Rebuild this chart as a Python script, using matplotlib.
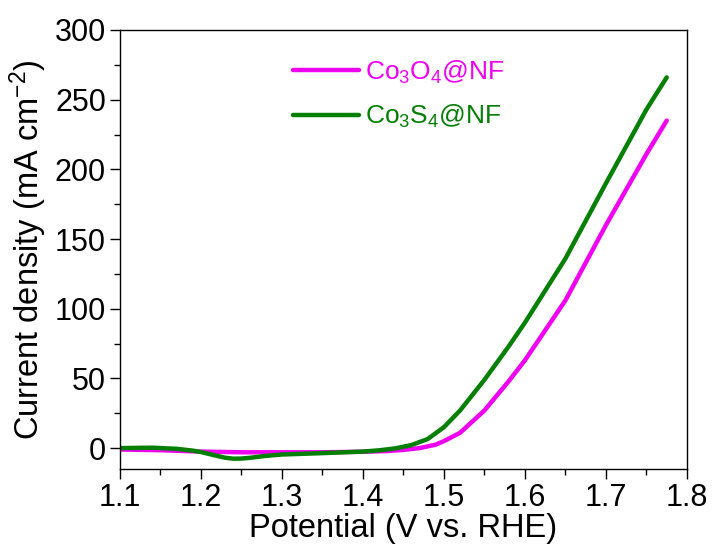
import matplotlib
matplotlib.use("Agg")
import matplotlib.pyplot as plt
from matplotlib.ticker import MultipleLocator

plt.rcParams['font.family'] = ['Liberation Sans', 'DejaVu Sans']
plt.rcParams['mathtext.fontset'] = 'custom'
plt.rcParams['mathtext.rm'] = 'Liberation Sans'
plt.rcParams['mathtext.it'] = 'Liberation Sans'

# Co3S4@NF
x_s = [1.10, 1.14, 1.17, 1.19, 1.20, 1.21, 1.22, 1.23, 1.24, 1.25, 1.26, 1.28, 1.30, 1.35,
       1.40, 1.42, 1.44, 1.46, 1.48, 1.50, 1.52, 1.55, 1.58, 1.60, 1.65, 1.70, 1.75, 1.775]
y_s = [0.0, 0.3, -0.5, -1.8, -2.8, -4.2, -5.6, -6.9, -7.6, -7.5, -7.0, -5.6, -4.6, -3.6,
       -2.5, -1.6, -0.2, 2.2, 6.5, 15.0, 27.0, 49.0, 73.0, 90.0, 136.0, 190.0, 243.0, 266.0]

# Co3O4@NF
x_o = [1.10, 1.15, 1.20, 1.25, 1.30, 1.35, 1.40, 1.43, 1.45, 1.47, 1.49, 1.50, 1.52, 1.55,
       1.58, 1.60, 1.65, 1.70, 1.75, 1.775]
y_o = [-1.0, -1.5, -2.5, -3.0, -3.0, -3.0, -2.6, -2.1, -1.3, 0.0, 2.5, 5.0, 11.0, 27.0,
       48.0, 63.0, 106.0, 160.0, 211.0, 235.0]

labels = [r'Co$_3$O$_4$@NF', r'Co$_3$S$_4$@NF']
colors = ['#f000f0', '#058005']

fig = plt.figure(figsize=(7.13, 5.49), dpi=100)
ax = fig.add_axes([0.168, 0.1457, 0.7955, 0.7997])

ax.plot(x_o, y_o, color=colors[0], lw=3.2, label=labels[0], solid_capstyle='round')
ax.plot(x_s, y_s, color=colors[1], lw=3.2, label=labels[1], solid_capstyle='round')

ax.set_xlim(1.1, 1.8)
ax.set_ylim(-15, 300)
ax.xaxis.set_major_locator(MultipleLocator(0.1))
ax.xaxis.set_minor_locator(MultipleLocator(0.05))
ax.yaxis.set_major_locator(MultipleLocator(50))
ax.yaxis.set_minor_locator(MultipleLocator(25))
ax.tick_params(which='major', direction='out', length=7, width=1.0, labelsize=22, pad=3)
ax.tick_params(which='minor', direction='out', length=4, width=1.0)
for s in ax.spines.values():
    s.set_linewidth(1.0)

ax.set_xlabel('Potential (V vs. RHE)', fontsize=23.5, labelpad=0)
ax.set_ylabel(r'Current density (mA cm$^{\mathrm{-2}}$)', fontsize=23.5, labelpad=4)

leg = ax.legend(loc='upper left', bbox_to_anchor=(0.305, 0.935), frameon=False,
                fontsize=19, handlelength=2.5, handletextpad=0.22, labelspacing=0.65,
                borderpad=0, borderaxespad=0)
for t, c in zip(leg.get_texts(), colors):
    t.set_color(c)

fig.savefig('out.png', dpi=100)
